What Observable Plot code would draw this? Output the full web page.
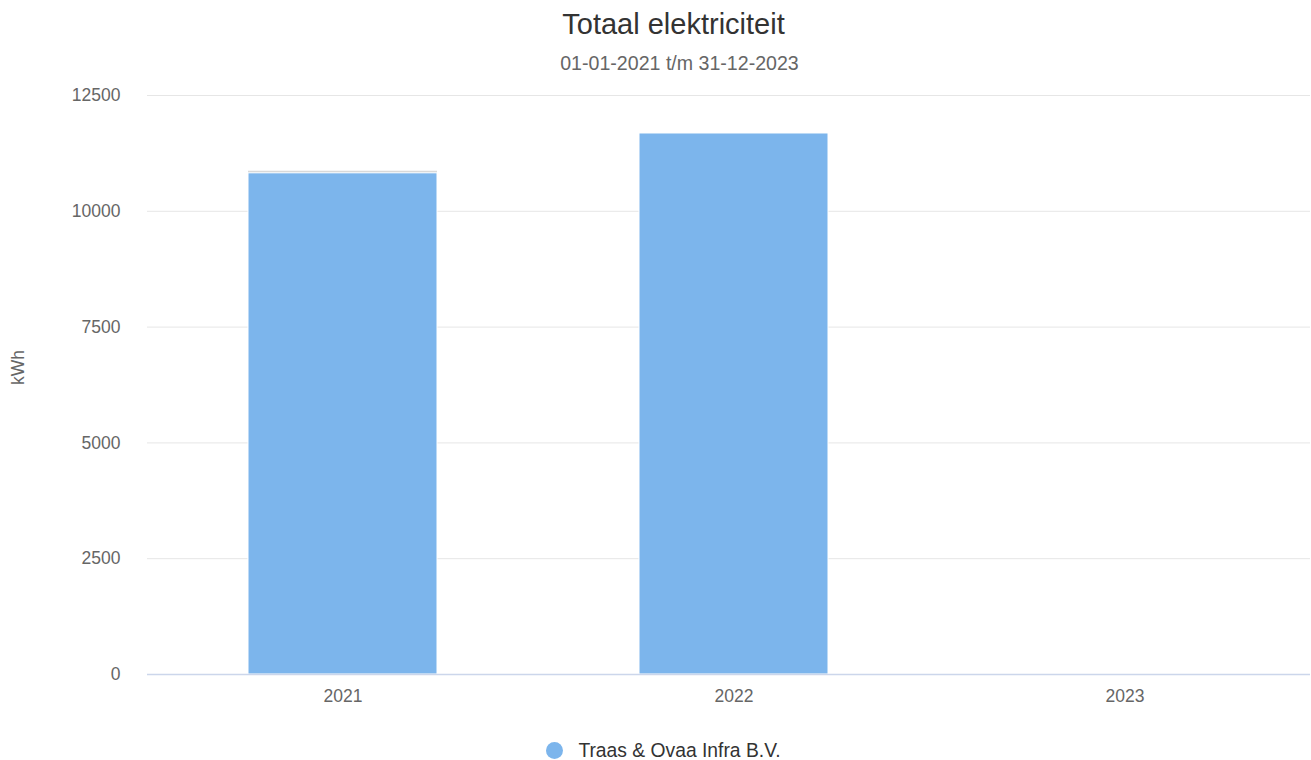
<!DOCTYPE html>
<html>
<head>
<meta charset="utf-8">
<script src="https://cdn.jsdelivr.net/npm/d3@7"></script>
<script src="https://cdn.jsdelivr.net/npm/@observablehq/plot@0.6"></script>
<style>
  html, body { margin: 0; padding: 0; background: #fff; }
  body { width: 1311px; height: 760px; position: relative; font-family: "Liberation Sans", Arial, sans-serif; overflow: hidden; }
  #title { position: absolute; left: 18px; width: 1311px; top: 7px; text-align: center; font-size: 29px; line-height: 34px; color: #333; white-space: nowrap; }
  #subtitle { position: absolute; left: 24px; width: 1311px; top: 52px; text-align: center; font-size: 19.6px; line-height: 22px; color: #666; white-space: nowrap; }
  #chart { position: absolute; left: 0; top: 80px; }
  #legend { position: absolute; left: 8px; width: 1311px; top: 740px; text-align: center; font-size: 19.3px; line-height: 22px; color: #333; white-space: nowrap; }
  #legend .dot { display: inline-block; width: 17px; height: 17px; border-radius: 50%; background: #7cb5ec; vertical-align: -2px; margin-right: 15px; }
</style>
</head>
<body>
<div id="title">Totaal elektriciteit</div>
<div id="subtitle">01-01-2021 t/m 31-12-2023</div>
<div id="chart"></div>
<div id="legend"><span class="dot"></span>Traas &amp; Ovaa Infra B.V.</div>
<script>
const years = ["2021", "2022", "2023"];
const values = [10820, 11680, 0];
const topEdge = [45, 0, 0];
const yTicks = [0, 2500, 5000, 7500, 10000, 12500];
const seriesName = "Traas & Ovaa Infra B.V.";

const data = years.map((y, i) => ({year: y, value: values[i], series: seriesName}));
const edge = years.map((y, i) => ({year: y, base: values[i], value: values[i] + topEdge[i]}));

const plot = Plot.plot({
  width: 1311,
  height: 640,
  marginLeft: 147,
  marginRight: 1,
  marginTop: 15,
  marginBottom: 46,
  style: {fontFamily: "Liberation Sans, Arial, sans-serif", fontSize: "17.5px", color: "#666", background: "#fff"},
  x: {domain: years, range: [145.75, 1320.25], paddingInner: 0.517, paddingOuter: 0.2585, label: null, tickSize: 0},
  y: {domain: [0, 12500], ticks: yTicks, label: null, tickSize: 0},
  marks: [
    Plot.gridY(yTicks, {stroke: "#e6e6e6", strokeOpacity: 1}),
    Plot.rectY(edge.filter(d => d.value > d.base), {x: "year", y1: "base", y2: "value", fill: "#d9d9d9", inset: 0}),
    Plot.barY(data, {x: "year", y: "value", fill: "#7cb5ec", stroke: "#ffffff", strokeWidth: 1}),
    Plot.ruleY([0], {stroke: "#ccd6eb", strokeWidth: 1.5}),
    Plot.axisX({tickSize: 0, tickPadding: 15, fill: "#666", fontSize: 17.5}),
    Plot.axisY({ticks: yTicks, tickSize: 0, tickPadding: 27, fill: "#666", fontSize: 17.5, tickFormat: d => String(d)}),
    Plot.text(["kWh"], {frameAnchor: "left", dx: -129, rotate: -90, fill: "#666", fontSize: 17.5})
  ]
});
document.getElementById("chart").appendChild(plot);
</script>
</body>
</html>
